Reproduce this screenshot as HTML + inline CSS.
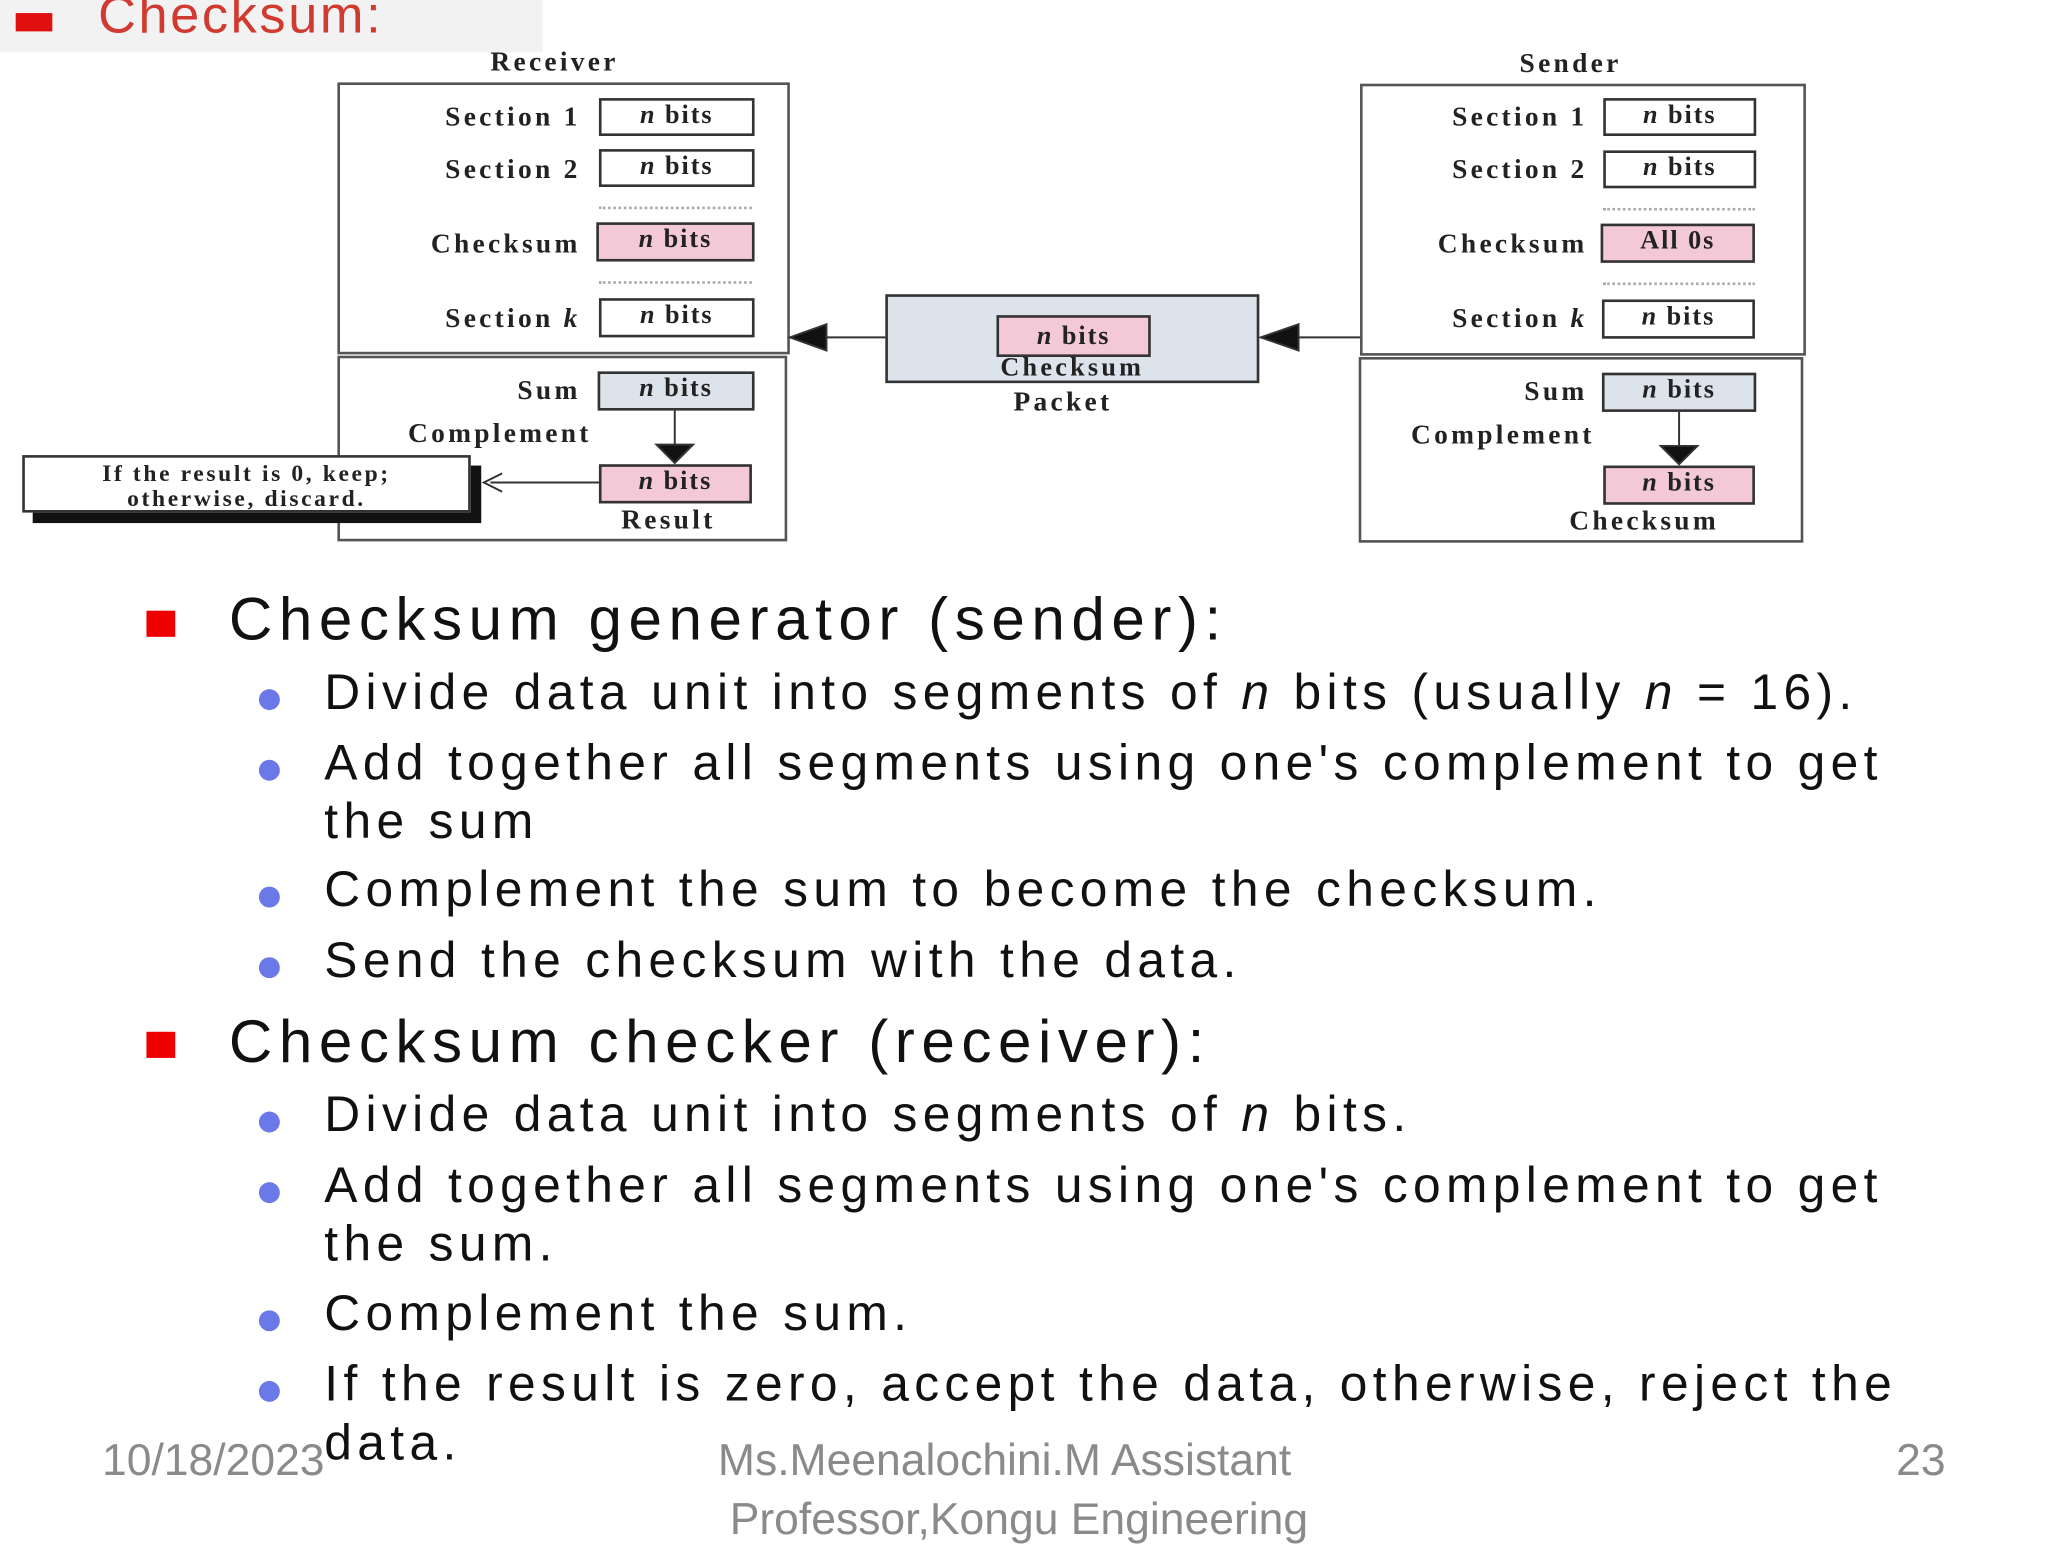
<!DOCTYPE html>
<html><head><meta charset="utf-8"><style>
html,body{margin:0;padding:0;background:#fff;overflow:hidden;width:2048px;height:1536px}
#s{position:absolute;left:0;top:0;width:1566px;height:1175px;transform:scale(1.3077);transform-origin:0 0}
.a{position:absolute;white-space:nowrap}
.sf{font-family:"Liberation Serif",serif;font-size:21px;color:#222;letter-spacing:2.5px;font-weight:bold}
.bx{position:absolute;border:2px solid #333;box-sizing:border-box;font-family:"Liberation Serif",serif;font-size:20px;font-weight:bold;color:#222;text-align:center;letter-spacing:1.5px}
.w{background:#fff}.p{background:#f3c9d8}.g{background:#dde3ea}
.fr{position:absolute;border:2px solid #555;box-sizing:border-box}
.dot{position:absolute;border-top:2px dotted #aaa;height:0}
.t{position:absolute;white-space:nowrap;font-family:"Liberation Sans",sans-serif;color:#111;font-size:38px;letter-spacing:4.1px}
.h{font-size:46px;letter-spacing:5px}
.rb{position:absolute;width:22px;height:20px;background:#e00}
.bb{position:absolute;width:16px;height:16px;border-radius:50%;background:#6b78e8}
.f{position:absolute;white-space:nowrap;font-family:"Liberation Sans Narrow","Liberation Sans",sans-serif;color:#8a8a8a;font-size:34px}
i{font-style:italic}
</style></head><body><div id="s">
<div style="position:absolute;left:0;top:0;width:415px;height:40px;background:#f2f2f2"></div>
<div style="position:absolute;left:12px;top:10px;width:28px;height:14px;background:#e01010"></div>
<div class="a" style="left:75px;top:-10px;font-family:'Liberation Sans',sans-serif;font-size:40px;color:#d03a30;letter-spacing:2px">Checksum:</div>

<div class="a sf" style="left:375px;top:35px">Receiver</div>
<div class="a sf" style="left:1162px;top:36px">Sender</div>

<!-- receiver -->
<div class="fr" style="left:258px;top:63px;width:346px;height:208px"></div>
<div class="fr" style="left:258px;top:272px;width:344px;height:142px"></div>
<div class="a sf" style="right:1122px;top:77px">Section 1</div>
<div class="bx w" style="left:458px;top:75px;width:119px;height:29px"><i>n</i> bits</div>
<div class="a sf" style="right:1122px;top:117px">Section 2</div>
<div class="bx w" style="left:458px;top:114px;width:119px;height:29px"><i>n</i> bits</div>
<div class="dot" style="left:458px;top:158px;width:117px"></div>
<div class="a sf" style="right:1122px;top:174px">Checksum</div>
<div class="bx p" style="left:456px;top:170px;width:121px;height:30px"><i>n</i> bits</div>
<div class="dot" style="left:458px;top:215px;width:117px"></div>
<div class="a sf" style="right:1122px;top:231px">Section <i>k</i></div>
<div class="bx w" style="left:458px;top:228px;width:119px;height:30px"><i>n</i> bits</div>
<div class="a sf" style="right:1122px;top:286px">Sum</div>
<div class="bx g" style="left:457px;top:284px;width:120px;height:30px"><i>n</i> bits</div>
<div class="a sf" style="left:312px;top:319px">Complement</div>
<div class="bx p" style="left:458px;top:355px;width:117px;height:30px"><i>n</i> bits</div>
<div class="a sf" style="left:475px;top:385px">Result</div>
<div style="position:absolute;left:25px;top:356px;width:343px;height:44px;background:#111"></div>
<div class="bx w" style="left:17px;top:348px;width:343px;height:44px;font-size:18px;line-height:19px;padding-top:3px;letter-spacing:2px">If the result is 0, keep;<br>otherwise, discard.</div>

<!-- packet -->
<div class="bx g" style="left:677px;top:225px;width:286px;height:68px;padding-top:44px;line-height:20px;letter-spacing:2.5px">Checksum</div>
<div class="bx p" style="left:762px;top:241px;width:118px;height:32px;line-height:28px"><i>n</i> bits</div>
<div class="a sf" style="left:775px;top:295px">Packet</div>

<!-- sender -->
<div class="fr" style="left:1040px;top:64px;width:341px;height:208px"></div>
<div class="fr" style="left:1039px;top:273px;width:340px;height:142px"></div>
<div class="a sf" style="right:352px;top:77px">Section 1</div>
<div class="bx w" style="left:1226px;top:75px;width:117px;height:29px"><i>n</i> bits</div>
<div class="a sf" style="right:352px;top:117px">Section 2</div>
<div class="bx w" style="left:1226px;top:115px;width:117px;height:29px"><i>n</i> bits</div>
<div class="dot" style="left:1226px;top:159px;width:116px"></div>
<div class="a sf" style="right:352px;top:174px">Checksum</div>
<div class="bx p" style="left:1224px;top:171px;width:118px;height:30px">All 0s</div>
<div class="dot" style="left:1226px;top:216px;width:116px"></div>
<div class="a sf" style="right:352px;top:231px">Section <i>k</i></div>
<div class="bx w" style="left:1225px;top:229px;width:117px;height:30px"><i>n</i> bits</div>
<div class="a sf" style="right:352px;top:287px">Sum</div>
<div class="bx g" style="left:1225px;top:285px;width:118px;height:30px"><i>n</i> bits</div>
<div class="a sf" style="left:1079px;top:320px">Complement</div>
<div class="bx p" style="left:1226px;top:356px;width:116px;height:30px"><i>n</i> bits</div>
<div class="a sf" style="left:1200px;top:386px">Checksum</div>

<svg style="position:absolute;left:0;top:0" width="1566" height="1175">
<g stroke="#333" stroke-width="1.5" fill="#111">
<line x1="632" y1="258" x2="677" y2="258"/><polygon points="604,258 632,248 632,268"/>
<line x1="993" y1="258" x2="1040" y2="258"/><polygon points="964,258 993,248 993,268"/>
<line x1="516" y1="314" x2="516" y2="340"/><polygon points="502,340 530,340 516,354"/>
<line x1="1284" y1="315" x2="1284" y2="341"/><polygon points="1270,341 1298,341 1284,355"/>
<line x1="375" y1="369" x2="458" y2="369"/><polyline points="384,362 370,369 384,376" fill="none"/>
</g></svg>

<!-- text -->
<div class="rb" style="left:112px;top:467px"></div>
<div class="t h" style="left:175px;top:446px">Checksum generator (sender):</div>
<div class="bb" style="left:198px;top:527px"></div>
<div class="t" style="left:248px;top:509px">Divide data unit into segments of <i>n</i> bits (usually <i>n</i> = 16).</div>
<div class="bb" style="left:198px;top:581px"></div>
<div class="t" style="left:248px;top:563px">Add together all segments using one's complement to get</div>
<div class="t" style="left:248px;top:608px">the sum</div>
<div class="bb" style="left:198px;top:678px"></div>
<div class="t" style="left:248px;top:660px">Complement the sum to become the checksum.</div>
<div class="bb" style="left:198px;top:732px"></div>
<div class="t" style="left:248px;top:714px">Send the checksum with the data.</div>
<div class="rb" style="left:112px;top:789px"></div>
<div class="t h" style="left:175px;top:769px">Checksum checker (receiver):</div>
<div class="bb" style="left:198px;top:850px"></div>
<div class="t" style="left:248px;top:832px">Divide data unit into segments of <i>n</i> bits.</div>
<div class="bb" style="left:198px;top:904px"></div>
<div class="t" style="left:248px;top:886px">Add together all segments using one's complement to get</div>
<div class="t" style="left:248px;top:931px">the sum.</div>
<div class="bb" style="left:198px;top:1002px"></div>
<div class="t" style="left:248px;top:984px">Complement the sum.</div>
<div class="bb" style="left:198px;top:1056px"></div>
<div class="t" style="left:248px;top:1038px">If the result is zero, accept the data, otherwise, reject the</div>
<div class="t" style="left:248px;top:1083px">data.</div>

<div class="f" style="left:78px;top:1098px">10/18/2023</div>
<div class="f" style="left:549px;top:1098px">Ms.Meenalochini.M Assistant</div>
<div class="f" style="left:558px;top:1143px">Professor,Kongu Engineering</div>
<div class="f" style="left:1450px;top:1098px">23</div>
</div></body></html>
